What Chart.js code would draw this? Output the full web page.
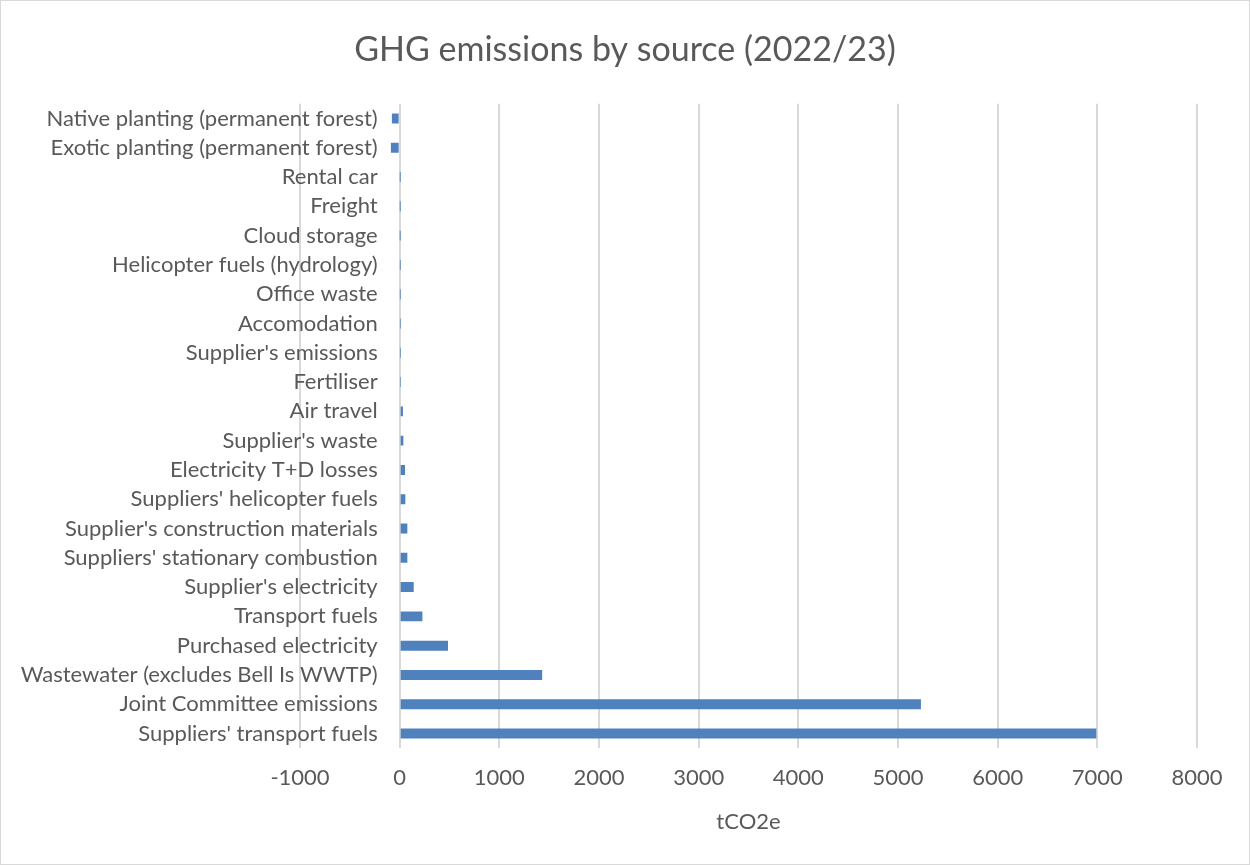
<!DOCTYPE html>
<html>
<head>
<meta charset="utf-8">
<script src="https://cdn.jsdelivr.net/npm/chart.js@4/dist/chart.umd.min.js"></script>
<style>
  html, body { margin: 0; padding: 0; background: #fff; }
  #wrap { width: 1250px; height: 865px; }
</style>
</head>
<body>
<div id="wrap"><canvas id="ghgChart" width="1250" height="865"></canvas></div>
<script>
const categories = [
    'Native planting (permanent forest)',
    'Exotic planting (permanent forest)',
    'Rental car',
    'Freight',
    'Cloud storage',
    'Helicopter fuels (hydrology)',
    'Office waste',
    'Accomodation',
    "Supplier's emissions",
    'Fertiliser',
    'Air travel',
    "Supplier's waste",
    'Electricity T+D losses',
    "Suppliers' helicopter fuels",
    "Supplier's construction materials",
    "Suppliers' stationary combustion",
    "Supplier's electricity",
    'Transport fuels',
    'Purchased electricity',
    'Wastewater (excludes Bell Is WWTP)',
    'Joint Committee emissions',
    "Suppliers' transport fuels"
];
const emissions = [-78, -88, 1, 1, 0.5, 2, 2, 3, 3, 4, 33, 37, 54, 57, 77, 77, 141, 228, 485, 1430, 5230, 6990];
const xMin = -1000;
const xMax = 8000;
const xStep = 1000;

const textColor = '#595959';
const gridColor = '#d9d9d9';
const fontFamily = 'Lato, "Liberation Sans", sans-serif';

const frame = {
    id: 'frame',
    beforeDraw(chart) {
        const c = chart.ctx;
        c.save();
        c.fillStyle = '#fff';
        c.fillRect(0, 0, chart.width, chart.height);
        c.strokeStyle = gridColor;
        c.lineWidth = 1;
        c.strokeRect(0.5, 0.5, chart.width - 1, chart.height - 1);
        c.restore();
    }
};

// category labels sit next to the 0 line, like Excel does
const catLabels = {
    id: 'catLabels',
    beforeDatasetsDraw(chart) {
        const c = chart.ctx;
        const x = chart.scales.x.getPixelForValue(0) - 22;
        const y = chart.scales.y;
        c.save();
        c.font = '22px ' + fontFamily;
        c.fillStyle = textColor;
        c.textAlign = 'right';
        c.textBaseline = 'middle';
        categories.forEach((name, i) => c.fillText(name, x, y.getPixelForTick(i)));
        c.restore();
    }
};

new Chart(document.getElementById('ghgChart').getContext('2d'), {
    type: 'bar',
    data: {
        labels: categories,
        datasets: [{
            label: 'tCO2e',
            data: emissions,
            backgroundColor: '#4f81bd',
            borderWidth: 0,
            categoryPercentage: 1,
            barPercentage: 0.34
        }]
    },
    options: {
        indexAxis: 'y',
        responsive: false,
        animation: false,
        layout: { padding: { left: 0, right: 0, top: 0, bottom: 30 } },
        plugins: {
            legend: { display: false },
            tooltip: { enabled: false },
            title: {
                display: true,
                text: 'GHG emissions by source (2022/23)',
                color: textColor,
                font: { family: fontFamily, size: 34, weight: 'normal' },
                padding: { top: 30, bottom: 33 }
            }
        },
        scales: {
            x: {
                min: xMin,
                max: xMax,
                ticks: {
                    stepSize: xStep,
                    color: textColor,
                    padding: 17,
                    font: { family: fontFamily, size: 22 },
                    callback: v => String(v)
                },
                grid: { color: gridColor, lineWidth: 2, drawTicks: false },
                border: { display: false },
                title: {
                    display: true,
                    text: 'tCO2e',
                    color: textColor,
                    font: { family: fontFamily, size: 22 },
                    padding: { top: 0, bottom: 0 }
                }
            },
            y: {
                position: 'left',
                afterFit: s => { s.width = 300; },
                ticks: { display: false },
                grid: { display: false },
                border: { display: false }
            },
            yRight: {
                type: 'category',
                position: 'right',
                afterFit: s => { s.width = 53; },
                ticks: { display: false },
                grid: { display: false },
                border: { display: false }
            }
        }
    },
    plugins: [frame, catLabels]
});
</script>
</body>
</html>
